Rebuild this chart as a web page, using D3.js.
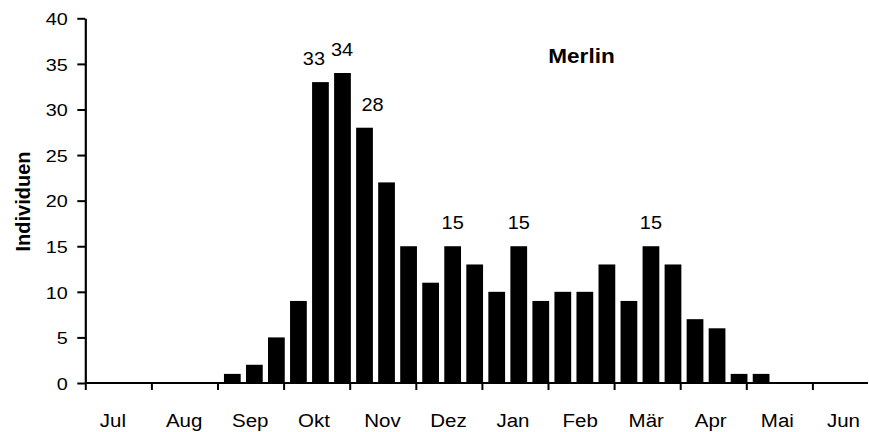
<!DOCTYPE html>
<html>
<head>
<meta charset="utf-8">
<script src="https://cdn.jsdelivr.net/npm/d3@7"></script>
<style>
  html, body { margin: 0; padding: 0; background: #fff; }
  svg { display: block; }
  text { font-family: "Liberation Sans", Arial, Helvetica, sans-serif; fill: #000; }
</style>
</head>
<body>
<svg id="chart" width="869" height="432"></svg>
<script>
// ---- data ----
const months = ["Jul", "Aug", "Sep", "Okt", "Nov", "Dez", "Jan", "Feb", "Mär", "Apr", "Mai", "Jun"];
// three periods (decades) per month
const counts = [
  0, 0, 0,    // Jul
  0, 0, 0,    // Aug
  1, 2, 5,    // Sep
  9, 33, 34,  // Okt
  28, 22, 15, // Nov
  11, 15, 13, // Dez
  10, 15, 9,  // Jan
  10, 10, 13, // Feb
  9, 15, 13,  // Mär
  7, 6, 1,    // Apr
  1, 0, 0,    // Mai
  0, 0, 0     // Jun
];
const yTicks = [0, 5, 10, 15, 20, 25, 30, 35, 40];
const labeledBars = [10, 11, 12, 16, 19, 25];
const yTitle = "Individuen";
const chartTitle = "Merlin";

// ---- layout ----
const svg = d3.select("#chart");
const x0 = 85.3, monthW = 66.1, axisEnd = 868;
const yBottom = 383, yTop = 18.3;

const xMonth = d3.scaleLinear().domain([0, 12]).range([x0, x0 + 12 * monthW]);
const xBand = d3.scaleBand()
  .domain(d3.range(counts.length))
  .range([x0 + 3.8, x0 + 3.8 + 12 * monthW])
  .paddingInner(0.24)
  .paddingOuter(0.12);
const y = d3.scaleLinear().domain([0, 40]).range([yBottom, yTop]);

// bars
svg.append("g").selectAll("rect")
  .data(counts)
  .join("rect")
  .attr("x", (d, i) => xBand(i))
  .attr("width", xBand.bandwidth())
  .attr("y", d => y(d))
  .attr("height", d => y(0) - y(d))
  .attr("fill", "#000");

// y axis
const yAxis = svg.append("g")
  .attr("transform", `translate(${x0},0)`)
  .call(d3.axisLeft(y).tickValues(yTicks).tickSize(8).tickSizeOuter(0).tickFormat(d3.format("d")));
yAxis.select(".domain").attr("stroke", "#000").attr("stroke-width", 2.2);
yAxis.selectAll(".tick line").attr("stroke", "#000").attr("stroke-width", 2);
yAxis.selectAll(".tick text").remove();
yAxis.selectAll(".tick").append("text")
  .attr("transform", "translate(-17.5,6.2) scale(1.18,1)")
  .attr("text-anchor", "end")
  .style("font-size", "16.8px")
  .text(d => d);

// x axis
const xAxis = svg.append("g")
  .attr("transform", `translate(0,${yBottom})`)
  .call(d3.axisBottom(xMonth).tickValues(d3.range(12)).tickSize(7).tickSizeOuter(0).tickFormat(""));
xAxis.select(".domain").attr("d", `M${x0},0H${axisEnd}`).attr("stroke", "#000").attr("stroke-width", 2.2);
xAxis.selectAll(".tick line").attr("stroke", "#000").attr("stroke-width", 2);

// month labels
svg.append("g").selectAll("text")
  .data(months)
  .join("text")
  .attr("transform", (d, i) => `translate(${xMonth(i) + 14.5},426.5) scale(1.08,1)`)
  .attr("text-anchor", "start")
  .style("font-size", "19px")
  .text(d => d);

// value labels
const labelDx = [-6.5, -0.5, 8, 0, 0, 0];
svg.append("g").selectAll("text")
  .data(labeledBars)
  .join("text")
  .attr("transform", (d, k) => `translate(${xBand(d) + xBand.bandwidth() / 2 + labelDx[k]},${y(counts[d]) - 17}) scale(1.14,1)`)
  .attr("text-anchor", "middle")
  .style("font-size", "17.5px")
  .text(d => counts[d]);

// title
svg.append("text")
  .attr("transform", "translate(581.5,62.7) scale(1.1,1)")
  .attr("text-anchor", "middle")
  .style("font-size", "20.5px")
  .style("font-weight", "bold")
  .text(chartTitle);

// y axis title
svg.append("text")
  .attr("transform", "translate(29.5,201.5) rotate(-90)")
  .attr("text-anchor", "middle")
  .style("font-size", "20px")
  .style("font-weight", "bold")
  .text(yTitle);
</script>
</body>
</html>
